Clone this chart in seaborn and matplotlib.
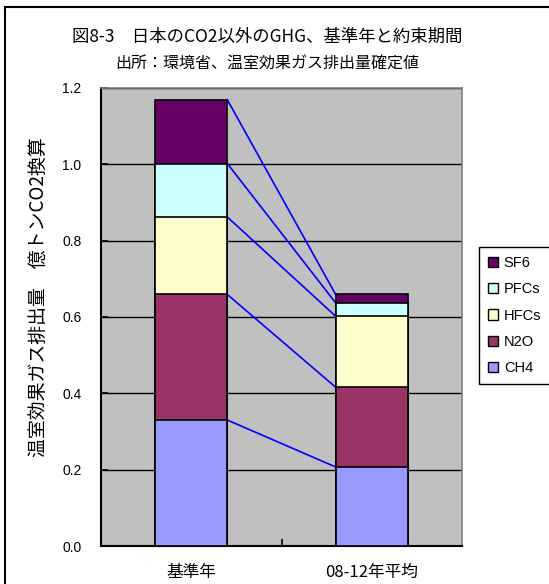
import matplotlib
matplotlib.use("Agg")
import numpy as np
import pandas as pd
import matplotlib.pyplot as plt
from matplotlib.patches import Patch, Rectangle
import seaborn as sns

# Non-CO2 greenhouse gases in Japan, 100 million t CO2 equivalent
periods = ["基準年", "08-12年平均"]
gases = ["CH4", "N2O", "HFCs", "PFCs", "SF6"]
ch4 = [0.330, 0.207]
n2o = [0.329, 0.209]
hfcs = [0.203, 0.186]
pfcs = [0.140, 0.035]
sf6 = [0.167, 0.022]
yticks = [0.0, 0.2, 0.4, 0.6, 0.8, 1.0, 1.2]

gas_colors = {
    "CH4": "#9999FF",
    "N2O": "#993366",
    "HFCs": "#FFFFCC",
    "PFCs": "#CCFFFF",
    "SF6": "#660066",
}

df = pd.DataFrame({"period": periods, "CH4": ch4, "N2O": n2o,
                   "HFCs": hfcs, "PFCs": pfcs, "SF6": sf6})
cum = df[gases].cumsum(axis=1)
cum.insert(0, "period", periods)

plt.rcParams["font.family"] = ["Liberation Sans", "Noto Sans CJK JP"]

W, H = 549, 584
fig = plt.figure(figsize=(W / 100, H / 100), dpi=100)
ax = fig.add_axes([101 / W, 38 / H, 361 / W, 458 / H])
ax.set_facecolor("#C0C0C0")

# stacked bars: draw cumulative totals from the top down
for g in reversed(gases):
    sns.barplot(data=cum, x="period", y=g, order=periods, color=gas_colors[g],
                saturation=1, width=0.4, edgecolor="black", linewidth=1.2,
                errorbar=None, ax=ax, zorder=3)

# series lines joining the segment tops of the two bars
for g in gases:
    ax.plot([0.2, 0.8], cum[g].values, color="#0000FF", lw=1.2, zorder=2.5)

ax.set_xlim(-0.5, 1.5)
ax.set_ylim(0, 1.2)
ax.set_yticks(yticks)
ax.set_yticklabels([f"{v:.1f}" for v in yticks], fontsize=10)
ax.yaxis.grid(True, color="black", lw=1)
ax.set_axisbelow(True)

ax.set_xticks([0, 1])
ax.set_xticklabels(periods, fontsize=12, family=["Noto Sans CJK JP"])
ax.set_xticks([0.5], minor=True)
ax.tick_params(axis="x", which="major", length=0, pad=13)
ax.tick_params(axis="x", which="minor", length=5, direction="in", width=1.2)
ax.tick_params(axis="y", length=5, direction="in", width=1.2, pad=14)
ax.set_xlabel("")
ax.set_ylabel("温室効果ガス排出量　億トンCO2換算", fontsize=13.6,
              family=["Noto Sans CJK JP"])
ax.yaxis.set_label_coords((49 - 101) / 361, (546 - 297) / 458)

for s in ["left", "bottom"]:
    ax.spines[s].set_color("black")
    ax.spines[s].set_linewidth(1.5)
for s in ["top", "right"]:
    ax.spines[s].set_color("#808080")
    ax.spines[s].set_linewidth(1.2)

# titles
fig.text(267 / W, 1 - 37 / H, "図8-3　日本のCO2以外のGHG、基準年と約束期間",
         ha="center", va="center", fontsize=12.5, family=["Noto Sans CJK JP"])
fig.text(267 / W, 1 - 64 / H, "出所：環境省、温室効果ガス排出量確定値",
         ha="center", va="center", fontsize=11.5, family=["Noto Sans CJK JP"])

# legend
handles = [Patch(facecolor=gas_colors[g], edgecolor="black", linewidth=1, label=g)
           for g in reversed(gases)]
leg = fig.legend(handles=handles, loc="upper left",
                 bbox_to_anchor=(479 / W, 1 - 247 / H), borderaxespad=0,
                 fontsize=10.5, handlelength=0.7, handleheight=0.7,
                 handletextpad=0.4, labelspacing=0.85, borderpad=0.6,
                 fancybox=False, framealpha=1, edgecolor="black")
leg.get_frame().set_linewidth(1)

# chart-area border
fig.patches.append(Rectangle((5 / W, -0.1), 1.2, 1 - 7 / H + 0.1,
                             transform=fig.transFigure, fill=False,
                             edgecolor="black", lw=1.5))

fig.savefig("out.png", dpi=100)
